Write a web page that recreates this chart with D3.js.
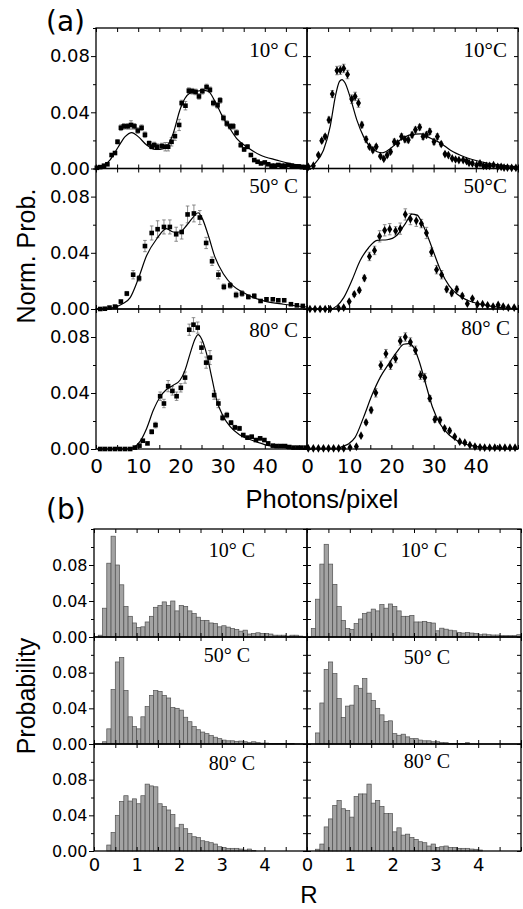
<!DOCTYPE html>
<html><head><meta charset="utf-8">
<script src="https://cdn.jsdelivr.net/npm/d3@7"></script>
<style>body{margin:0;background:#fff}svg{display:block}</style>
</head><body>
<script>
// ---------- DATA ----------
const photonTicks=[0,10,20,30,40];
const photonMajor=[0,10,20,30,40,50];
const photonMinor=[5,15,25,35,45];
const rTicks=[0,1,2,3,4];
const rMajor=[0,1,2,3,4,5];
const rMinor=[0.5,1.5,2.5,3.5,4.5];
const probTicksA=[0,0.04,0.08];
const probMinorA=[0.02,0.06,0.10];
const probTicksB=[0,0.04,0.08];
const probMinorB=[0.02,0.06,0.10,0.12];
const tempLabelsA=[["10° C","10°C"],["50° C","50°C"],["80° C","80° C"]];
const tempLabelsB=[["10° C","10° C"],["50° C","50° C"],["80° C","80° C"]];

// panel (a): [photons/pixel, norm. prob., error]
const pts10L=[[0.2,0.0005,0],[1.0,0.001,0],[1.9,0.002,0],[2.7,0.003,0],[3.7,0.0096,0.001],[4.5,0.011,0.001],[5.1,0.019,0.0015],[5.9,0.029,0.002],[6.6,0.030,0.002],[7.5,0.030,0.002],[8.3,0.031,0.003],[9.1,0.030,0.002],[9.9,0.027,0.002],[10.8,0.029,0.002],[11.6,0.024,0.002],[12.6,0.018,0.0015],[13.2,0.0155,0.0015],[13.8,0.0167,0.002],[14.5,0.0155,0.002],[15.6,0.016,0.002],[16.4,0.0155,0.003],[17.1,0.0155,0.003],[17.9,0.019,0.003],[18.7,0.023,0.003],[19.7,0.031,0.004],[20.3,0.0466,0.002],[21.2,0.0447,0.003],[22.0,0.0554,0.002],[22.8,0.055,0.002],[23.6,0.0545,0.002],[24.4,0.0513,0.002],[25.2,0.055,0.002],[26.2,0.058,0.002],[27.0,0.056,0.002],[27.8,0.0466,0.002],[28.8,0.045,0.002],[29.4,0.0485,0.002],[30.2,0.036,0.002],[31.0,0.032,0.002],[31.8,0.030,0.002],[32.5,0.030,0.002],[33.3,0.0255,0.002],[34.3,0.0167,0.0015],[35.1,0.0136,0.0015],[35.9,0.0155,0.0015],[36.7,0.0096,0],[37.5,0.006,0],[38.3,0.0048,0],[39.1,0.0036,0],[40.0,0.0043,0],[40.8,0.003,0],[41.6,0.002,0],[42.4,0.002,0],[43.2,0.0025,0],[44.0,0.002,0],[44.8,0.002,0],[45.6,0.0025,0],[46.4,0.002,0],[47.2,0.0015,0],[48.0,0.0015,0],[48.8,0.001,0],[49.6,0.001,0]];
const fit10L=[[0.2,0],[3.3,0.006],[5.3,0.0155],[6.9,0.0227],[8.5,0.0256],[10.0,0.0227],[12.0,0.0167],[14.0,0.0136],[15.2,0.0136],[16.7,0.0155],[18.3,0.025],[19.9,0.0418],[21.1,0.050],[22.3,0.0537],[23.9,0.055],[25.4,0.0556],[26.6,0.055],[28.2,0.0478],[29.8,0.038],[31.4,0.030],[33.3,0.0215],[35.7,0.0155],[38.9,0.0096],[42.8,0.006],[46.8,0.003],[50,0.002]];
const pts10R=[[0.3,0.0012,0],[1.5,0.002,0],[2.7,0.0096,0.001],[3.5,0.0198,0.0015],[4.3,0.0227,0.0015],[5.2,0.0346,0.002],[6.0,0.053,0.0025],[7.1,0.0697,0.003],[7.9,0.070,0.003],[8.7,0.0712,0.003],[9.6,0.0669,0.003],[10.6,0.0494,0.003],[11.4,0.0513,0.003],[12.2,0.0466,0.003],[13.0,0.031,0.002],[14.0,0.0208,0.002],[14.8,0.0155,0.0015],[15.6,0.0131,0.0015],[16.4,0.0155,0.0015],[17.4,0.0088,0.001],[18.2,0.0069,0.001],[19.0,0.0096,0.0015],[19.8,0.012,0.0015],[20.7,0.019,0.002],[21.5,0.0179,0.002],[22.4,0.0227,0.002],[23.2,0.0208,0.002],[24.0,0.0203,0.002],[24.9,0.0239,0.002],[25.7,0.0275,0.002],[26.7,0.0294,0.002],[27.5,0.0227,0.002],[28.3,0.0239,0.002],[29.1,0.0263,0.002],[30.1,0.019,0.002],[30.9,0.0227,0.002],[31.8,0.0174,0.0015],[32.7,0.0103,0.001],[33.5,0.0096,0.001],[34.4,0.0072,0],[35.2,0.0064,0],[36.0,0.006,0],[37.0,0.006,0],[37.8,0.0053,0],[38.4,0.004,0],[39.2,0.0036,0],[40.2,0.0024,0],[41.0,0.0036,0],[41.8,0.0019,0],[42.5,0.0019,0],[43.3,0.0019,0],[44.2,0.0024,0],[45.2,0.0012,0],[46.0,0.0012,0],[46.7,0.0007,0],[47.5,0.0007,0],[48.5,0.0005,0],[49.5,0.0005,0]];
const fit10R=[[0,0.0005],[1.9,0.0036],[3.9,0.013],[5.5,0.030],[6.7,0.051],[7.7,0.062],[8.3,0.0633],[9.0,0.061],[10.2,0.051],[11.8,0.0346],[13.4,0.0227],[15.4,0.0143],[17.8,0.0112],[19.8,0.0143],[22.1,0.0203],[24.5,0.0239],[26.9,0.0246],[29.3,0.0215],[31.7,0.018],[34.0,0.013],[37.2,0.0084],[41.2,0.0048],[46.0,0.0024],[50,0.0012]];
const pts50L=[[1.0,0,0],[2.1,0.0002,0],[3.2,0.001,0],[4.5,0.0017,0],[5.9,0.0053,0.001],[7.3,0.011,0.0015],[8.8,0.0244,0.003],[10.2,0.0218,0.002],[11.6,0.0448,0.004],[13.2,0.0541,0.005],[14.6,0.0568,0.006],[16.1,0.0584,0.005],[17.5,0.0584,0.005],[19.0,0.0532,0.005],[20.3,0.0548,0.005],[21.7,0.0673,0.006],[23.2,0.068,0.006],[24.6,0.0651,0.005],[26.1,0.047,0.004],[27.5,0.034,0.003],[29.0,0.0244,0.003],[30.3,0.0158,0.002],[31.8,0.0168,0.002],[33.2,0.010,0.002],[34.6,0.011,0.002],[36.1,0.0086,0.0015],[37.5,0.0093,0.0015],[39.0,0.0057,0.001],[40.4,0.0069,0.001],[41.9,0.0069,0.001],[43.2,0.0062,0],[44.6,0.0062,0],[46.2,0.0034,0],[47.6,0.0026,0],[49.0,0.0022,0]];
const fit50L=[[0.2,0],[4.1,0.001],[6.1,0.0034],[8.1,0.0081],[10.0,0.0213],[12.0,0.038],[14.4,0.050],[16.7,0.0572],[18.3,0.0548],[19.9,0.0548],[21.5,0.0596],[23.1,0.0656],[24.2,0.0685],[25.0,0.0656],[26.6,0.0525],[28.2,0.0369],[30.2,0.0249],[32.5,0.0165],[34.9,0.0117],[37.3,0.0081],[40.4,0.0053],[44.4,0.0034],[50,0.0014]];
const pts50R=[[0.7,0,0],[1.9,0,0],[3.1,0,0],[4.3,0,0],[5.5,0,0],[7.5,0.0005,0],[8.7,0.001,0],[10.0,0.0053,0],[11.2,0.0105,0.0015],[12.4,0.0134,0.0015],[13.6,0.022,0.002],[14.8,0.0374,0.003],[16.0,0.0417,0.003],[17.2,0.0517,0.004],[18.4,0.056,0.004],[19.6,0.0568,0.004],[21.0,0.0556,0.003],[22.1,0.0572,0.004],[23.3,0.0673,0.004],[24.5,0.064,0.004],[25.9,0.0628,0.004],[27.1,0.0608,0.003],[28.3,0.0541,0.004],[29.5,0.0405,0.003],[30.7,0.028,0.003],[31.9,0.0244,0.003],[33.1,0.0141,0.002],[34.3,0.0113,0.002],[35.5,0.0141,0.002],[36.8,0.0093,0.0015],[38.0,0.0038,0],[39.2,0.0074,0.001],[40.4,0.0034,0],[41.6,0.0034,0],[42.8,0.0026,0],[44.1,0.0017,0],[45.3,0.0029,0],[46.5,0.0017,0],[47.7,0.001,0],[49.1,0.001,0]];
const fit50R=[[0,0],[5.5,0],[7.1,0.0022],[8.7,0.0081],[10.6,0.0201],[12.6,0.0345],[14.6,0.0436],[16.6,0.0489],[19.0,0.0493],[21.3,0.0525],[23.3,0.0608],[24.9,0.0675],[26.1,0.0668],[27.7,0.0584],[29.7,0.0429],[31.7,0.0273],[33.7,0.0165],[35.6,0.0105],[38.0,0.0062],[42.0,0.0029],[46.0,0.001],[50,0]];
const pts80L=[[1.0,0,0],[2.1,0,0],[3.3,0,0],[4.5,0,0],[5.7,0,0],[6.9,0,0],[8.1,0,0],[9.2,0.001,0],[10.3,0.0024,0],[11.1,0.0059,0.001],[12.2,0.004,0],[13.2,0.0123,0.0015],[14.1,0.0171,0.002],[15.2,0.0377,0.003],[16.1,0.0325,0.003],[17.1,0.0449,0.004],[18.1,0.0415,0.003],[19.1,0.0377,0.003],[20.1,0.0437,0.003],[21.1,0.051,0.004],[22.1,0.0852,0.004],[23.1,0.0888,0.005],[24.1,0.0867,0.004],[25.0,0.0724,0.004],[26.1,0.0617,0.004],[27.0,0.0653,0.005],[28.0,0.0385,0.003],[29.0,0.0325,0.003],[30.0,0.0223,0.002],[31.0,0.0242,0.002],[32.0,0.0188,0.0015],[32.9,0.0154,0.0015],[34.0,0.0147,0.0015],[34.9,0.01,0.001],[35.9,0.0081,0.001],[36.9,0.0088,0.001],[37.9,0.0064,0.001],[38.9,0.0076,0.001],[39.9,0.0064,0.001],[40.8,0.004,0],[41.9,0.0024,0],[42.8,0.0021,0],[43.8,0.0021,0],[44.8,0.0021,0],[45.8,0.0014,0],[46.8,0.001,0],[47.8,0.001,0],[48.7,0.001,0],[49.8,0.001,0]];
const fit80L=[[0.2,0],[7.3,0],[8.8,0.001],[10.4,0.0052],[12.0,0.0147],[13.6,0.0278],[15.2,0.0373],[16.7,0.0425],[18.3,0.0456],[19.9,0.0491],[21.1,0.0563],[22.3,0.0681],[23.5,0.0788],[24.2,0.0817],[25.0,0.0788],[26.2,0.0681],[27.4,0.0515],[28.6,0.0349],[30.2,0.023],[31.8,0.0159],[34.1,0.01],[37.3,0.0059],[40.4,0.0028],[44.4,0.0012],[50,0.0002]];
const pts80R=[[0.3,0.0005,0],[1.5,0.0005,0],[2.7,0.0005,0],[3.9,0.0005,0],[5.1,0.0005,0],[6.3,0.0005,0],[7.5,0.0005,0],[8.7,0.0005,0],[10.2,0.001,0],[11.7,0.0017,0],[12.8,0.0095,0],[14.0,0.019,0.0015],[15.2,0.0278,0.002],[16.3,0.0401,0.003],[17.5,0.0598,0.003],[18.7,0.0681,0.003],[19.8,0.0598,0.003],[21.0,0.0646,0.003],[22.1,0.0772,0.003],[23.3,0.08,0.003],[24.5,0.0764,0.003],[25.7,0.0705,0.003],[26.9,0.0527,0.003],[27.9,0.051,0.003],[29.1,0.0361,0.002],[30.3,0.0211,0.002],[31.5,0.0207,0.002],[32.6,0.0147,0.0015],[33.8,0.0131,0.0015],[35.0,0.0088,0.001],[36.2,0.0052,0.001],[37.4,0.0045,0.001],[38.6,0.0028,0],[39.8,0.0017,0],[41.0,0.0012,0],[42.1,0.0009,0],[43.3,0.0009,0],[44.5,0.0009,0],[45.7,0.0009,0],[46.9,0.0009,0],[48.1,0.0009,0],[49.3,0.0009,0]];
const fit80R=[[0,0],[7.1,0],[8.3,0.0017],[9.8,0.0036],[11.4,0.0083],[13.4,0.0226],[15.4,0.0385],[17.4,0.0515],[19.4,0.061],[21.3,0.0693],[22.9,0.0748],[24.1,0.0752],[25.3,0.0724],[26.5,0.0634],[28.1,0.0468],[29.7,0.0302],[31.7,0.0171],[33.7,0.01],[36.0,0.0052],[39.6,0.0021],[44.4,0.0005],[50,0]];

// panel (b): histogram bins of R (left edges) and probabilities
const rBins=[0.0,0.1,0.2,0.3,0.4,0.5,0.6,0.7,0.8,0.9,1.0,1.1,1.2,1.3,1.4,1.5,1.6,1.7,1.8,1.9,2.0,2.1,2.2,2.3,2.4,2.5,2.6,2.7,2.8,2.9,3.0,3.1,3.2,3.3,3.4,3.5,3.6,3.7,3.8,3.9,4.0,4.1,4.2,4.3,4.4,4.5,4.6,4.7,4.8,4.9];
const h10L=[0,0.002,0.032,0.082,0.112,0.080,0.058,0.034,0.023,0.0156,0.0105,0.0113,0.0167,0.023,0.033,0.035,0.039,0.035,0.040,0.029,0.035,0.034,0.029,0.026,0.022,0.0185,0.0185,0.0156,0.015,0.0113,0.0125,0.011,0.0095,0.0085,0.0065,0.0076,0.0033,0.004,0.0047,0.004,0.004,0.0033,0.002,0.002,0.002,0.001,0.002,0.002,0.001,0];
const h10R=[0,0.0095,0.042,0.081,0.103,0.081,0.0585,0.034,0.0185,0.0095,0.0084,0.0149,0.020,0.026,0.0276,0.031,0.029,0.036,0.032,0.0367,0.034,0.029,0.023,0.023,0.024,0.0167,0.0167,0.0174,0.016,0.0155,0.0069,0.0098,0.0087,0.0076,0.0069,0.0051,0.0044,0.0051,0.0044,0.004,0.0025,0.0033,0.0025,0.0022,0.0022,0.0015,0.0015,0.0015,0.0015,0.0025];
const h50L=[0,0,0.0025,0.017,0.061,0.092,0.097,0.060,0.0305,0.0196,0.017,0.0305,0.042,0.0545,0.060,0.059,0.0545,0.0516,0.041,0.040,0.038,0.030,0.025,0.0196,0.016,0.0134,0.0116,0.0094,0.0076,0.006,0.0044,0.0036,0.0036,0.003,0.0033,0.0025,0.0015,0.0025,0.0015,0.001,0.001,0.0007,0.0007,0.0005,0.0005,0.0007,0.0005,0,0,0];
const h50R=[0,0,0.0124,0.046,0.0836,0.092,0.079,0.051,0.0298,0.0425,0.0436,0.0654,0.0625,0.0734,0.057,0.0487,0.040,0.0327,0.0254,0.026,0.0116,0.0098,0.011,0.008,0.006,0.006,0.0044,0.0036,0.0036,0.0025,0.0025,0.0018,0.0015,0.0007,0.0007,0.0005,0.0005,0.0015,0,0,0,0,0,0,0,0,0,0,0,0];
const h80L=[0,0,0,0.0067,0.0207,0.040,0.0556,0.062,0.056,0.0585,0.053,0.062,0.075,0.073,0.072,0.053,0.050,0.046,0.041,0.026,0.030,0.025,0.0196,0.016,0.015,0.0115,0.0104,0.0093,0.0078,0.0048,0.004,0.003,0.003,0.003,0.0022,0.0011,0.0022,0.0004,0,0,0,0,0,0,0,0,0,0,0,0];
const h80R=[0,0,0.002,0.0078,0.027,0.036,0.051,0.0567,0.0474,0.0456,0.038,0.061,0.064,0.064,0.075,0.0537,0.0567,0.050,0.0419,0.0419,0.0215,0.026,0.0178,0.0189,0.0152,0.013,0.0104,0.0093,0.0056,0.0078,0.004,0.0048,0.0056,0.004,0.004,0.003,0.003,0.003,0.0022,0.0019,0.0011,0,0,0,0,0,0,0,0,0];

// ---------- LAYOUT ----------
const svg=d3.select("body").append("svg").attr("width",523).attr("height",909);
const colsA={L:[96,307],R:[307,518]};
const rowsA=[[28,168.5],[168.5,309],[309,449]];
const colsB={L:[94,307],R:[307,521]};
const rowsB=[[529,637],[637,744],[744,851]];
const tempPosA=[[[298,57],[507,57]],[[298,193],[507,193]],[[298,337],[510,335]]];
const tempPosB=[[[255,557],[447,557]],[[250,662],[450,664]],[[255,770],[450,768]]];

const TICKFONT="DejaVu Sans", TITLEFONT="Liberation Sans", SERIF="Liberation Serif";

function axes(x,y,x0,x1,y0,y1,o){
  const g=svg.append("g");
  const yAll=o.yMaj.concat(o.yMin).filter(v=>v<=y.domain()[1]);
  const xAll=o.xMaj.concat(o.xMin);
  if(o.left){
    const a=g.append("g").attr("transform",`translate(${x0},0)`)
      .call(d3.axisLeft(y).tickValues(o.yMaj).tickSize(5).tickPadding(o.yPad).tickFormat(d3.format(".2f")));
    a.attr("font-family",TICKFONT).attr("font-size",o.yFont);
    g.append("g").attr("transform",`translate(${x0},0)`)
      .call(d3.axisLeft(y).tickValues(o.yMin).tickSize(3).tickFormat(""));
  } else {
    g.append("g").attr("transform",`translate(${x0},0)`)
      .call(d3.axisRight(y).tickValues(yAll).tickSize(4).tickFormat(""));
  }
  g.append("g").attr("transform",`translate(${x1},0)`)
    .call(d3.axisLeft(y).tickValues(yAll).tickSize(4).tickFormat(""));
  g.append("g").attr("transform",`translate(0,${y0})`)
    .call(d3.axisBottom(x).tickValues(xAll).tickSize(4).tickFormat(""));
  g.append("g").attr("transform",`translate(0,${y1})`)
    .call(d3.axisTop(x).tickValues(xAll).tickSize(4).tickFormat(""));
  if(o.bottom){
    const b=g.append("g").attr("transform",`translate(0,${y1})`)
      .call(d3.axisBottom(x).tickValues(o.xLab).tickSize(0).tickPadding(o.xPad).tickFormat(d3.format("d")));
    b.attr("font-family",TICKFONT).attr("font-size",o.xFont);
  }
  g.selectAll(".domain").remove();
  g.selectAll(".tick line").attr("stroke","#000").attr("stroke-width",1);
  g.selectAll("text").attr("fill","#000");
  svg.append("rect").attr("x",x0).attr("y",y0).attr("width",x1-x0).attr("height",y1-y0)
    .attr("fill","none").attr("stroke","#000").attr("stroke-width",1.3);
}

// ---------- PANEL (a) ----------
const setsA=[[pts10L,fit10L,pts10R,fit10R],[pts50L,fit50L,pts50R,fit50R],[pts80L,fit80L,pts80R,fit80R]];
setsA.forEach((s,ri)=>{
  ["L","R"].forEach((c,ci)=>{
    const [x0,x1]=colsA[c], [y0,y1]=rowsA[ri];
    const x=d3.scaleLinear().domain([0,50]).range([x0,x1]);
    const y=d3.scaleLinear().domain([0,0.10]).range([y1,y0]);
    const pts=s[ci*2], fit=s[ci*2+1];
    const g=svg.append("g");
    const eb=g.append("g").attr("stroke","#707070").attr("stroke-width",0.8);
    pts.filter(d=>d[2]>0).forEach(d=>{
      const xx=x(d[0]);
      eb.append("line").attr("x1",xx).attr("x2",xx).attr("y1",y(d[1]-d[2])).attr("y2",y(d[1]+d[2]));
      eb.append("line").attr("x1",xx-1.8).attr("x2",xx+1.8).attr("y1",y(d[1]+d[2])).attr("y2",y(d[1]+d[2]));
      eb.append("line").attr("x1",xx-1.8).attr("x2",xx+1.8).attr("y1",y(d[1]-d[2])).attr("y2",y(d[1]-d[2]));
    });
    if(c==="L"){
      g.selectAll("rect.m").data(pts).join("rect").attr("class","m")
        .attr("x",d=>x(d[0])-2.3).attr("y",d=>y(d[1])-2.3).attr("width",4.6).attr("height",4.6).attr("fill","#000");
    } else {
      g.selectAll("path.m").data(pts).join("path").attr("class","m")
        .attr("transform",d=>`translate(${x(d[0])},${y(d[1])})`)
        .attr("d",d3.symbol(d3.symbolDiamond,22)).attr("fill","#000");
    }
    g.append("path").datum(fit).attr("fill","none").attr("stroke","#000").attr("stroke-width",1.2)
      .attr("d",d3.line().x(d=>x(d[0])).y(d=>y(d[1])).curve(d3.curveMonotoneX));
    axes(x,y,x0,x1,y0,y1,{left:c==="L",bottom:ri===2,xMaj:photonMajor,xMin:photonMinor,yMaj:probTicksA,yMin:probMinorA,
      xLab:photonTicks,yPad:1,yFont:18,xPad:10,xFont:20});
    svg.append("text").attr("x",tempPosA[ri][ci][0]).attr("y",tempPosA[ri][ci][1]).attr("text-anchor","end")
      .attr("font-family",SERIF).attr("font-size",21).text(tempLabelsA[ri][ci]);
  });
});

// ---------- PANEL (b) ----------
const setsB=[[h10L,h10R],[h50L,h50R],[h80L,h80R]];
setsB.forEach((s,ri)=>{
  ["L","R"].forEach((c,ci)=>{
    const [x0,x1]=colsB[c], [y0,y1]=rowsB[ri];
    const x=d3.scaleLinear().domain([0,5]).range([x0,x1]);
    const y=d3.scaleLinear().domain([0,0.12]).range([y1,y0]);
    const vals=s[ci];
    const data=rBins.map((b,i)=>[b,vals[i]]).filter(d=>d[1]>0);
    svg.append("g").selectAll("rect").data(data).join("rect")
      .attr("x",d=>x(d[0])).attr("width",d=>x(d[0]+0.1)-x(d[0]))
      .attr("y",d=>y(d[1])).attr("height",d=>y(0)-y(d[1]))
      .attr("fill","#a3a3a3").attr("stroke","#505050").attr("stroke-width",0.7);
    axes(x,y,x0,x1,y0,y1,{left:c==="L",bottom:ri===2,xMaj:rMajor,xMin:rMinor,yMaj:probTicksB,yMin:probMinorB,
      xLab:rTicks,yPad:1.5,yFont:16,xPad:7,xFont:18});
    svg.append("text").attr("x",tempPosB[ri][ci][0]).attr("y",tempPosB[ri][ci][1]).attr("text-anchor","end")
      .attr("font-family",SERIF).attr("font-size",20).text(tempLabelsB[ri][ci]);
  });
});

// ---------- TITLES ----------
svg.append("text").attr("x",46).attr("y",31).attr("font-family",TICKFONT).attr("font-size",28).text("(a)");
svg.append("text").attr("x",46).attr("y",519).attr("font-family",TICKFONT).attr("font-size",28).text("(b)");
svg.append("text").attr("x",322).attr("y",508).attr("text-anchor","middle").attr("font-family",TITLEFONT).attr("font-size",25.5).text("Photons/pixel");
svg.append("text").attr("x",309).attr("y",903).attr("text-anchor","middle").attr("font-family",TITLEFONT).attr("font-size",24).text("R");
svg.append("text").attr("transform","translate(35,256) rotate(-90)").attr("text-anchor","middle").attr("font-family",TITLEFONT).attr("font-size",25).text("Norm. Prob.");
svg.append("text").attr("transform","translate(35,696) rotate(-90)").attr("text-anchor","middle").attr("font-family",TITLEFONT).attr("font-size",25).text("Probability");
</script>
</body></html>
